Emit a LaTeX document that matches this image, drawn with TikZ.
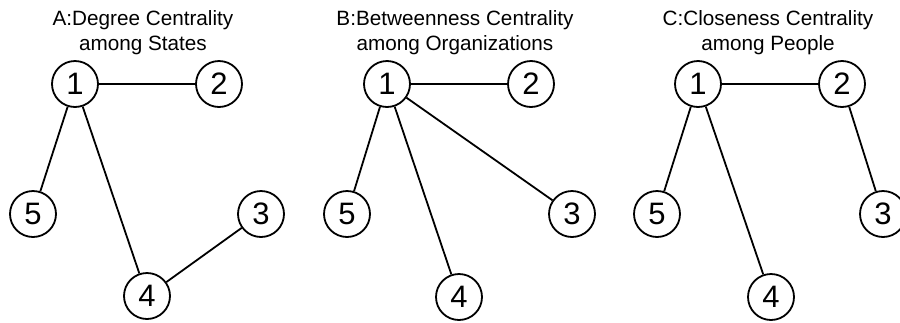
\documentclass[tikz,border=0pt]{standalone}
\usepackage{fontspec}
\setmainfont{Liberation Sans}
\begin{document}
\begin{tikzpicture}[x=1pt,y=-1pt,
 vert/.style={circle,draw,line width=1.8pt,minimum size=46pt,inner sep=0pt,font=\fontsize{31}{31}\selectfont},
 edge/.style={line width=1.8pt},
 ttl/.style={align=center,font=\fontsize{20.7}{25}\selectfont}]
\useasboundingbox (0,0) rectangle (900,322);
% Panel A
\node[ttl] (ta) at (143,33) {A:Degree Centrality\\among States};
\node[vert] (a1) at (75,84) {1};
\node[vert] (a2) at (219,84) {2};
\node[vert] (a5) at (33,214) {5};
\node[vert] (a3) at (261,214) {3};
\node[vert] (a4) at (147,296) {4};
\draw[edge] (a1) -- (a2);
\draw[edge] (a1) -- (a5);
\draw[edge] (a1) -- (a4);
\draw[edge] (a4) -- (a3);
% Panel B
\node[ttl] (tb) at (455,33) {B:Betweenness Centrality\\among Organizations};
\node[vert] (b1) at (387,84) {1};
\node[vert] (b2) at (531,84) {2};
\node[vert] (b5) at (347,214) {5};
\node[vert] (b3) at (572,214) {3};
\node[vert] (b4) at (459,297) {4};
\draw[edge] (b1) -- (b2);
\draw[edge] (b1) -- (b5);
\draw[edge] (b1) -- (b4);
\draw[edge] (b1) -- (b3);
% Panel C
\node[ttl] (tc) at (768,33) {C:Closeness Centrality\\among People};
\node[vert] (c1) at (698,84) {1};
\node[vert] (c2) at (842,84) {2};
\node[vert] (c5) at (657,214) {5};
\node[vert] (c3) at (883,214) {3};
\node[vert] (c4) at (771,297) {4};
\draw[edge] (c1) -- (c2);
\draw[edge] (c1) -- (c5);
\draw[edge] (c1) -- (c4);
\draw[edge] (c2) -- (c3);
\end{tikzpicture}
\end{document}
